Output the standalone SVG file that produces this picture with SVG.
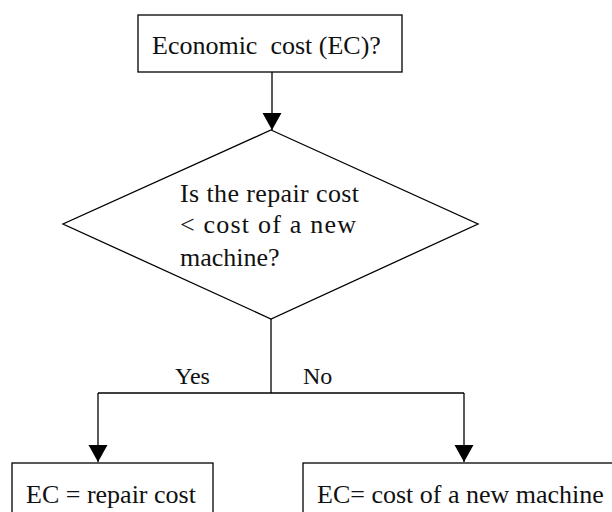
<svg xmlns="http://www.w3.org/2000/svg" width="612" height="512" viewBox="0 0 612 512">
  <style>
    .box { fill: #fff; stroke: #000; stroke-width: 1.3; }
    .line { fill: none; stroke: #000; stroke-width: 1.3; }
    .txt { font-family: "Liberation Serif", "Times New Roman", serif; font-size: 26px; fill: #111; }
    .lbl { font-family: "Liberation Serif", "Times New Roman", serif; font-size: 24px; fill: #111; }
  </style>
  <defs>
    <marker id="arrow" markerUnits="userSpaceOnUse" markerWidth="20" markerHeight="20" refX="17" refY="9.5" orient="auto">
      <path d="M0,0 L17,9.5 L0,19 Z" fill="#000"/>
    </marker>
  </defs>
  <rect width="612" height="512" fill="#fff"/>

  <g id="connectors">
    <line class="line" x1="272" y1="72" x2="272" y2="130" marker-end="url(#arrow)"/>
    <polyline class="line" points="271,319 271,393"/>
    <polyline class="line" points="98,393 464,393"/>
    <line class="line" x1="98" y1="393" x2="98" y2="462" marker-end="url(#arrow)"/>
    <line class="line" x1="464" y1="393" x2="464" y2="462" marker-end="url(#arrow)"/>
    <text class="lbl" x="175" y="384">Yes</text>
    <text class="lbl" x="303" y="384">No</text>
  </g>

  <g id="start">
    <rect class="box" x="138" y="15" width="264" height="57"/>
    <text class="txt" x="152" y="54" xml:space="preserve">Economic  cost (EC)?</text>
  </g>

  <g id="decision">
    <polygon class="box" points="271,130 478,224 271,319 63,224"/>
    <text class="txt" x="180" y="202" textLength="179" lengthAdjust="spacing">Is the repair cost</text>
    <text class="txt" x="180" y="233" textLength="176" lengthAdjust="spacing">&lt; cost of a new</text>
    <text class="txt" x="180" y="266">machine?</text>
  </g>

  <g id="repair">
    <rect class="box" x="12" y="463" width="201" height="60"/>
    <text class="txt" x="26" y="503">EC = repair cost</text>
  </g>

  <g id="replace">
    <rect class="box" x="303" y="463" width="320" height="60"/>
    <text class="txt" x="317" y="503">EC= cost of a new machine</text>
  </g>
</svg>
